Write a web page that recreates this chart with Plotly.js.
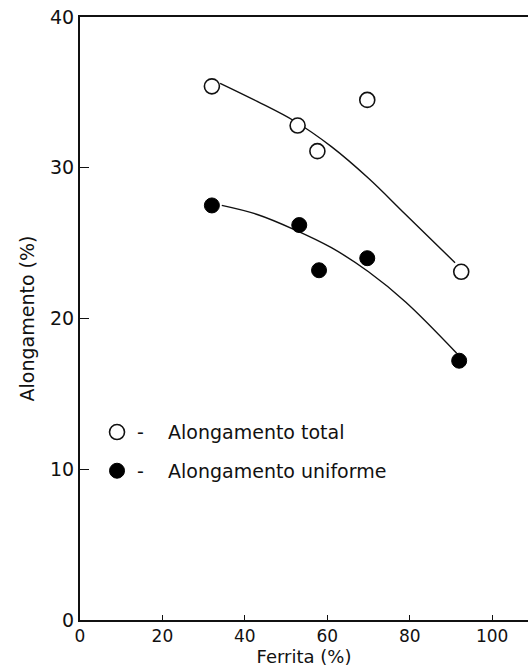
<!DOCTYPE html>
<html>
<head>
<meta charset="utf-8">
<script src="https://cdn.plot.ly/plotly-3.0.1.min.js"></script>
<style>html,body{margin:0;padding:0;background:#fff;}#chart{width:528px;height:668px;}</style>
</head>
<body>
<div id="chart"></div>
<script>
// Measured points
const ferritaTotal = [32, 52.8, 57.6, 69.7, 92.5];
const alongTotal = [35.4, 32.8, 31.1, 34.5, 23.1];
const ferritaUnif = [32, 53.2, 58, 69.7, 92];
const alongUnif = [27.5, 26.2, 23.2, 24.0, 17.2];
// Hand-drawn fitted curves
const curveTotalX = [34, 43, 52, 61, 70, 79, 91.0];
const curveTotalY = [35.6, 34.4, 33.1, 31.4, 29.3, 26.9, 23.7];
const curveUnifX = [34.4, 43, 52, 61, 70, 79, 91.4];
const curveUnifY = [27.5, 26.9, 25.9, 24.7, 23.1, 21.1, 17.7];
const xTicks = [0, 20, 40, 60, 80, 100];
const yTicks = [0, 10, 20, 30, 40];
const nb = '\u00a0\u00a0\u00a0\u00a0';
const legendNames = ['-' + nb + 'Alongamento total', '-' + nb + 'Alongamento uniforme'];

const fam = 'DejaVu Sans, sans-serif';
const col = '#111';
const fs = 19;

const traces = [
  {x: curveTotalX, y: curveTotalY, mode: 'lines', line: {color: col, width: 1.4, shape: 'spline', smoothing: 1}, showlegend: false, hoverinfo: 'skip'},
  {x: curveUnifX, y: curveUnifY, mode: 'lines', line: {color: col, width: 1.4, shape: 'spline', smoothing: 1}, showlegend: false, hoverinfo: 'skip'},
  {x: ferritaTotal, y: alongTotal, mode: 'markers', name: legendNames[0], legendgroup: 'a',
   marker: {symbol: 'circle', size: 15, color: '#fff', line: {color: col, width: 1.6}}},
  {x: ferritaUnif, y: alongUnif, mode: 'markers', name: legendNames[1], legendgroup: 'b',
   marker: {symbol: 'circle', size: 15, color: '#000', line: {color: '#000', width: 1}}}
];

const layout = {
  width: 528, height: 668,
  margin: {l: 80, r: 0, t: 17, b: 48},
  paper_bgcolor: '#fff', plot_bgcolor: '#fff',
  font: {family: fam, color: col},
  showlegend: true,
  legend: {x: 0.038, y: 0.343, xanchor: 'left', yanchor: 'top', bgcolor: 'rgba(0,0,0,0)',
           font: {family: fam, size: fs, color: col}, tracegroupgap: 11, itemwidth: 30},
  xaxis: {
    range: [0, 108.7], tickvals: xTicks, ticktext: xTicks.map(String),
    ticks: 'inside', ticklen: 5, tickwidth: 1, tickcolor: col,
    showline: true, linecolor: col, linewidth: 2, mirror: true,
    showgrid: false, zeroline: false,
    tickfont: {size: 17, family: fam, color: col},
    title: {text: 'Ferrita (%)', font: {size: 18, family: fam, color: col}, standoff: 5}
  },
  yaxis: {
    range: [0, 40], tickvals: yTicks, ticktext: yTicks.map(String),
    ticks: 'inside', ticklen: 9, tickwidth: 1, tickcolor: col,
    showline: true, linecolor: col, linewidth: 2,
    showgrid: false, zeroline: false,
    tickfont: {size: fs, family: fam, color: col},
    title: {text: 'Alongamento (%)', font: {size: fs, family: fam, color: col}, standoff: 10}
  }
};

Plotly.newPlot('chart', traces, layout, {displayModeBar: false, staticPlot: true});
</script>
</body>
</html>
